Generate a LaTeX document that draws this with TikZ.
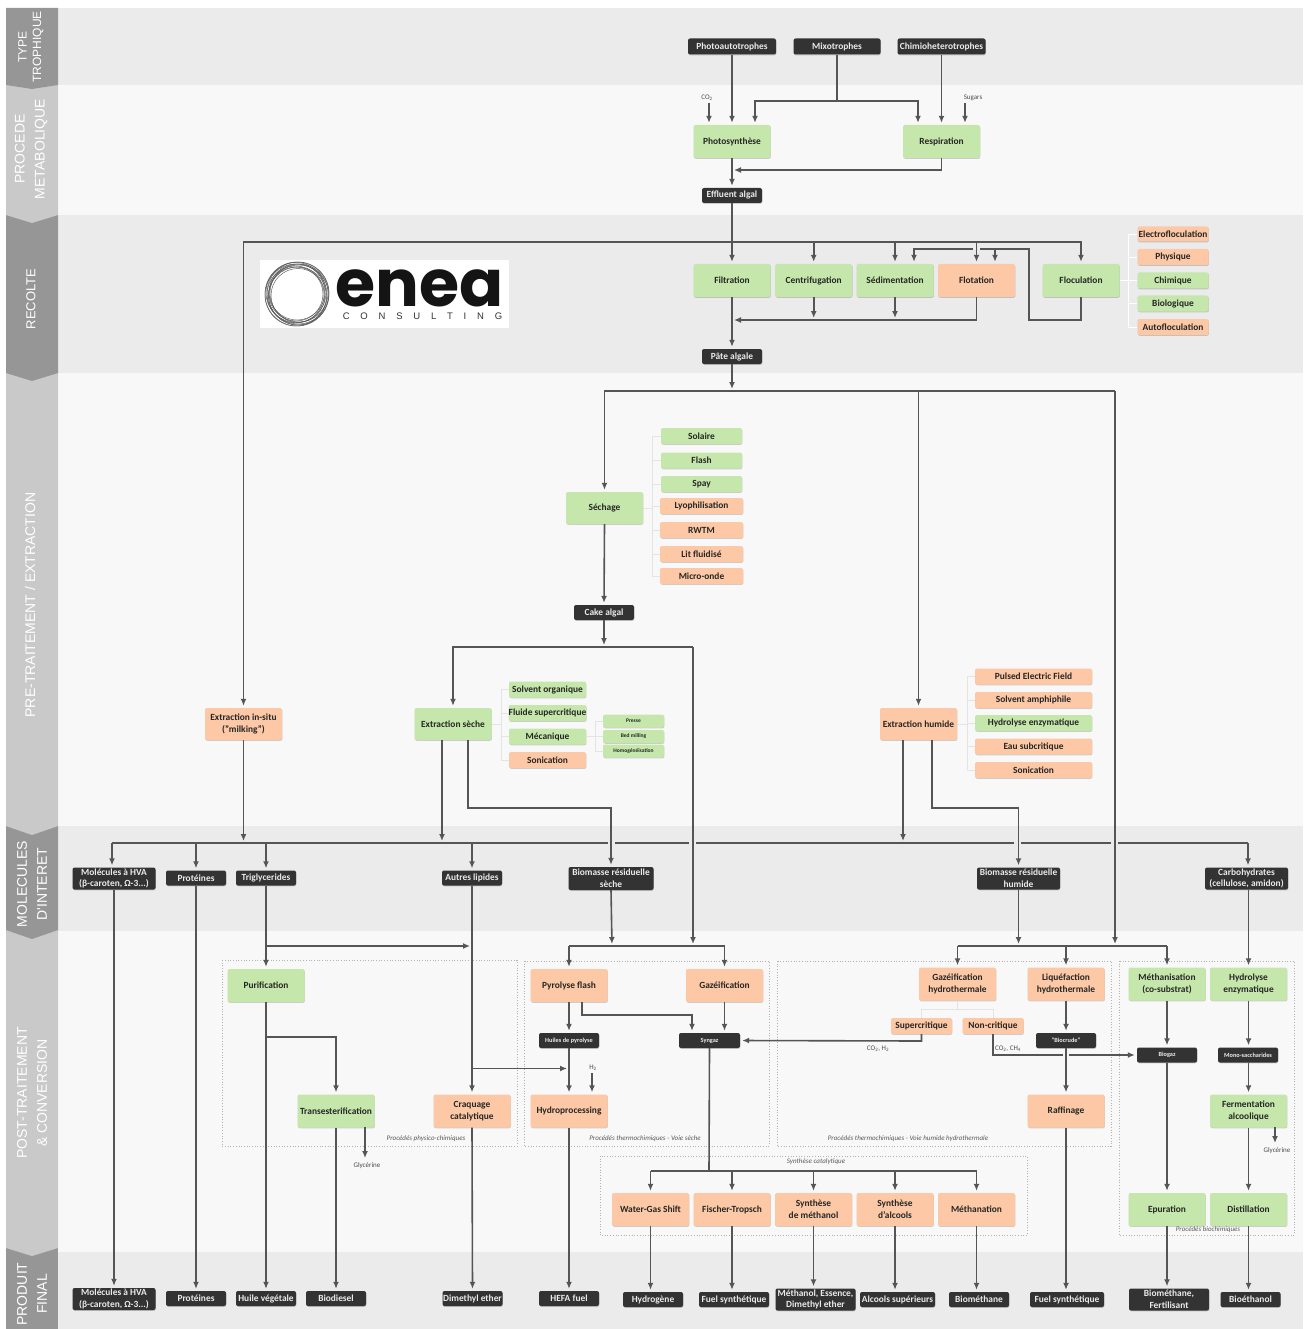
\documentclass[tikz,border=0pt]{standalone}
\usepackage{fontspec}
\setmainfont{Carlito}
\newfontfamily\tabf{Liberation Sans}
\newfontfamily\logof{Poppins}
\newfontfamily\logos{Liberation Sans}
\usetikzlibrary{arrows.meta,shadows}
\definecolor{bandA}{HTML}{EBEBEB}
\definecolor{bandB}{HTML}{F8F8F8}
\definecolor{tabD}{HTML}{969696}
\definecolor{tabL}{HTML}{C9C9C9}
\definecolor{cgreen}{HTML}{C5E7AC}
\definecolor{corange}{HTML}{FCC8A5}
\definecolor{cdark}{HTML}{333333}
\definecolor{cline}{HTML}{555555}
\definecolor{clight}{HTML}{E4E4E4}
\tikzset{
 x=1pt,y=-1pt,
 boxbase/.style={rounded corners=2pt,inner sep=0pt,align=center,
   drop shadow={shadow xshift=0.4pt,shadow yshift=-0.8pt,opacity=0.18,fill=black}},
 fn/.style={font=\fontsize{#1}{11.6}\selectfont\bfseries},
 boxgreen/.style={boxbase,fill=cgreen,text=black!85,fn=9.4},
 boxorange/.style={boxbase,fill=corange,text=black!85,fn=9.4},
 boxdark/.style={boxbase,fill=cdark,text=white!92!black,fn=9.4},
 ln/.style={draw=cline,line width=1.6pt},
 arr/.style={ln,-{Latex[length=7pt,width=6pt]},shorten >=2pt},
 lightln/.style={draw=clight,line width=0.8pt},
 whiteln/.style={draw=white,line width=0.8pt},
 groupbox/.style={draw=black!30,dotted,line width=0.7pt},
 grouplabel/.style={inner sep=0pt,text=black!65,font=\fontsize{7}{8}\selectfont\itshape},
 smalllabel/.style={inner sep=0pt,text=black!70,font=\fontsize{7}{8}\selectfont},
 tabtext/.style={rotate=90,align=center,text=white,inner sep=0pt,font=\fontsize{14}{20}\selectfont\tabf},
}
\newcommand{\bx}[7]{\node[#1,minimum width=#5pt,minimum height=#6pt] (#2) at (#3,#4) {#7};}
\newcommand{\tabshape}[4]{\fill[#1] (6,#2) -- (58,#2) -- (58,#3) -- (32,#4) -- (6,#3) -- cycle;}
\begin{document}
\begin{tikzpicture}
\useasboundingbox (0,0) rectangle (1303,1329);
\fill[white] (0,0) rectangle (1303,1329);
% bands
\fill[bandA] (6,8) rectangle (1303,85);
\fill[bandB] (6,85) rectangle (1303,215);
\fill[bandA] (6,215) rectangle (1303,373);
\fill[bandB] (6,373) rectangle (1303,826);
\fill[bandA] (6,826) rectangle (1303,931);
\fill[bandB] (6,931) rectangle (1303,1252);
\fill[bandA] (6,1252) rectangle (1303,1329);
% tabs
\fill[tabD] (6,1248) -- (58,1248) -- (58,1329) -- (6,1329) -- cycle;
\tabshape{tabL}{930}{1248}{1256}
\tabshape{tabD}{826}{930}{939}
\tabshape{tabL}{373}{826}{835}
\tabshape{tabD}{215}{373}{381}
\tabshape{tabL}{85}{215}{223}
\tabshape{tabD}{8}{85}{89}
\node[tabtext,font=\fontsize{12}{14.5}\selectfont\tabf] (t1) at (31,47) {TYPE\\TROPHIQUE};
\node[tabtext] (t2) at (31,149) {PROCEDE\\METABOLIQUE};
\node[tabtext,font=\fontsize{13}{15}\selectfont\tabf] (t3) at (31,299) {RECOLTE};
\node[tabtext] (t4) at (30,605) {PRE-TRAITEMENT / EXTRACTION};
\node[tabtext] (t5) at (32,884) {MOLECULES\\D'INTERET};
\node[tabtext] (t6) at (32,1093) {POST-TRAITEMENT\\\& CONVERSION};
\node[tabtext] (t7) at (32,1294) {PRODUIT\\FINAL};
% logo
\fill[white] (260,260) rectangle (509,328);
\foreach \dx/\dy/\r in {0/0/32,1/-1/31,-1/1/31,1.5/1/30,-1/-1.5/30,0.5/2/29,-1.5/0.5/28.5,2/-1/29,0/-2/28,1/1.5/27,-1/0/27}
  \draw[black!65,line width=0.45pt] (297+\dx,294+\dy) circle (\r);
\node[inner sep=0pt,font=\fontsize{65}{65}\selectfont\logof\bfseries,text=black!92] (logoa) at (419.5,288) {enea};
\node[inner sep=0pt,font=\fontsize{9.5}{10}\selectfont\logos,text=black!80] (logob) at (422.5,316) {\spaceskip=10.8pt\relax C O N S U L T I N G};
% groups
\draw[groupbox] (222,960) rectangle (517,1146);
\draw[groupbox] (524,961) rectangle (769,1146);
\draw[groupbox] (777,961) rectangle (1111,1146);
\draw[groupbox] (600,1156) rectangle (1027,1235);
\draw[groupbox] (1119,961) rectangle (1294,1235);
\node[grouplabel] (g1) at (426,1139) {Procédés physico-chimiques};
\node[grouplabel] (g2) at (645,1139) {Procédés thermochimiques - Voie sèche};
\node[grouplabel] (g3) at (908,1139) {Procédés thermochimiques - Voie humide hydrothermale};
\node[grouplabel] (g4) at (816,1162) {Synthèse catalytique};
\node[grouplabel] (g5) at (1208,1230) {Procédés biochimiques};
% top
\bx{boxdark}{pa}{732}{46.5}{88}{16}{Photoautotrophes}
\bx{boxdark}{mi}{837}{46.5}{87}{16}{Mixotrophes}
\bx{boxdark}{ch}{941.5}{46.5}{88}{16}{Chimioheterotrophes}
\bx{boxgreen}{ph}{732}{141.5}{77}{33}{Photosynthèse}
\bx{boxgreen}{re}{941.5}{141.5}{77}{33}{Respiration}
\bx{boxdark}{ef}{732}{195.5}{60}{15}{Effluent algal}
\node[smalllabel] (lco) at (707,98) {CO\textsubscript{2}};
\node[smalllabel] (lsu) at (973,98) {Sugars};
% recolte
\bx{boxgreen}{fi}{732}{280.5}{77}{33}{Filtration}
\bx{boxgreen}{ce}{813.7}{280.5}{77}{33}{Centrifugation}
\bx{boxgreen}{se}{895}{280.5}{77}{33}{Sédimentation}
\bx{boxorange}{fl}{976.5}{280.5}{77}{33}{Flotation}
\bx{boxgreen}{fc}{1081}{280.5}{77}{33}{Floculation}
\bx{boxorange}{fa}{1173}{234}{71}{15}{Electrofloculation}
\bx{boxorange}{fb}{1173}{257}{71}{16}{Physique}
\bx{boxgreen}{fd}{1173}{280.5}{71}{16}{Chimique}
\bx{boxgreen}{fe}{1173}{303.5}{71}{16}{Biologique}
\bx{boxorange}{ff}{1173}{327}{71}{16}{Autofloculation}
\bx{boxdark}{pt}{732}{356.5}{60}{15}{Pâte algale}
% sechage
\bx{boxgreen}{sc}{604.5}{508}{77}{32}{Séchage}
\bx{boxgreen}{sa}{701.5}{436}{81}{16}{Solaire}
\bx{boxgreen}{sb}{701.5}{460.5}{81}{16}{Flash}
\bx{boxgreen}{sd}{701.5}{484}{81}{16}{Spay}
\bx{boxorange}{sf}{701.5}{506}{83}{16}{Lyophilisation}
\bx{boxorange}{sg}{701.5}{530}{83}{16}{RWTM}
\bx{boxorange}{sh}{701.5}{554}{83}{16}{Lit fluidisé}
\bx{boxorange}{si}{701.5}{576}{83}{16}{Micro-onde}
\bx{boxdark}{ca}{604}{612.5}{60}{15}{Cake algal}
% extractions
\bx{boxorange}{xi}{243.5}{724}{77}{32}{Extraction in-situ\\("milking")}
\bx{boxgreen}{xs}{453}{724}{77}{32}{Extraction sèche}
\bx{boxgreen}{xa}{547.5}{689.5}{77}{16}{Solvent organique}
\bx{boxgreen}{xb}{547.5}{713}{77}{16}{Fluide supercritique}
\bx{boxgreen}{xc}{547.5}{736.5}{77}{16}{Mécanique}
\bx{boxorange}{xd}{547.5}{760}{77}{16}{Sonication}
\node[boxgreen,fn=5.5,minimum width=61pt,minimum height=13pt] (ya) at (633.5,721) {Presse};
\node[boxgreen,fn=5.5,minimum width=61pt,minimum height=13pt] (yb) at (633.5,736.5) {Bed milling};
\node[boxgreen,fn=5.5,minimum width=61pt,minimum height=13pt] (yc) at (633.5,751) {Homogénéisation};
\bx{boxorange}{xh}{918.5}{724}{77}{32}{Extraction humide}
\bx{boxorange}{ha}{1033.5}{676.5}{117}{16}{Pulsed Electric Field}
\bx{boxorange}{hb}{1033.5}{700}{117}{16}{Solvent amphiphile}
\bx{boxgreen}{hc}{1033.5}{723}{117}{16}{Hydrolyse enzymatique}
\bx{boxorange}{hd}{1033.5}{746.5}{117}{16}{Eau subcritique}
\bx{boxorange}{he}{1033.5}{770}{117}{16}{Sonication}
% molecules
\bx{boxdark}{ma}{114}{878.5}{83}{22}{Molécules à HVA\\(β-caroten, Ω-3...)}
\bx{boxdark}{mb}{196}{878}{60}{15}{Protéines}
\bx{boxdark}{mc}{266}{878}{60}{15}{Triglycerides}
\bx{boxdark}{md}{472}{878}{60}{15}{Autres lipides}
\bx{boxdark}{me}{611}{878.5}{85}{23}{Biomasse résiduelle\\sèche}
\bx{boxdark}{mf}{1018.5}{878.5}{83}{22}{Biomasse résiduelle\\humide}
\bx{boxdark}{mg}{1246.5}{878.5}{83}{22}{Carbohydrates\\(cellulose, amidon)}
% post
\bx{boxgreen}{pu}{266}{985.5}{77}{33}{Purification}
\bx{boxgreen}{tr}{336}{1111}{77}{33}{Transesterification}
\bx{boxorange}{cr}{472}{1111}{77}{33}{Craquage\\catalytique}
\bx{boxorange}{py}{569}{985.5}{77}{33}{Pyrolyse flash}
\bx{boxorange}{gz}{724.5}{985.5}{77}{33}{Gazéification}
\node[boxdark,fn=6.3,minimum width=60pt,minimum height=15pt] (hp) at (569,1040.5) {Huiles de pyrolyse};
\node[boxdark,fn=6.3,minimum width=61pt,minimum height=15pt] (sy) at (709.5,1040.5) {Syngaz};
\bx{boxorange}{hy}{569}{1111}{77}{33}{Hydroprocessing}
\bx{boxorange}{gh}{957.5}{984}{77}{33}{Gazéification\\hydrothermale}
\bx{boxorange}{lq}{1066}{984}{77}{33}{Liquéfaction\\hydrothermale}
\bx{boxgreen}{mz}{1167}{984}{77}{33}{Méthanisation\\(co-substrat)}
\bx{boxgreen}{hz}{1248.5}{984}{77}{33}{Hydrolyse\\enzymatique}
\bx{boxorange}{su}{921.5}{1026}{61}{16}{Supercritique}
\bx{boxorange}{nc}{993}{1026}{61}{16}{Non-critique}
\node[boxdark,fn=6.3,minimum width=60pt,minimum height=15pt] (bc) at (1066,1040.5) {"Biocrude"};
\node[boxdark,fn=6.3,minimum width=60pt,minimum height=15pt] (bg) at (1167,1055) {Biogaz};
\node[boxdark,fn=6.3,minimum width=60pt,minimum height=15pt] (mo) at (1248,1055) {Mono-saccharides};
\bx{boxorange}{ra}{1066}{1111}{77}{33}{Raffinage}
\bx{boxgreen}{fm}{1248.5}{1111}{77}{33}{Fermentation\\alcoolique}
\bx{boxorange}{wg}{650.5}{1209.5}{77}{33}{Water-Gas Shift}
\bx{boxorange}{ft}{732}{1209.5}{77}{33}{Fischer-Tropsch}
\bx{boxorange}{sm}{813.5}{1209.5}{77}{33}{Synthèse\\de méthanol}
\bx{boxorange}{sl}{895}{1209.5}{77}{33}{Synthèse\\d'alcools}
\bx{boxorange}{mt}{976.5}{1209.5}{77}{33}{Méthanation}
\bx{boxgreen}{ep}{1167}{1209.5}{77}{33}{Epuration}
\bx{boxgreen}{di}{1248.5}{1209.5}{77}{33}{Distillation}
% finals
\bx{boxdark}{za}{114}{1299}{83}{22}{Molécules à HVA\\(β-caroten, Ω-3...)}
\bx{boxdark}{zb}{196}{1298.5}{60}{15}{Protéines}
\bx{boxdark}{zc}{266}{1298.5}{60}{15}{Huile végétale}
\bx{boxdark}{zd}{336}{1298.5}{60}{15}{Biodiesel}
\bx{boxdark}{ze}{472.5}{1298.5}{60}{15}{Dimethyl ether}
\bx{boxdark}{zf}{569}{1298.5}{60}{15}{HEFA fuel}
\bx{boxdark}{zg}{653}{1299.5}{60}{15}{Hydrogène}
\bx{boxdark}{zh}{734}{1299.5}{70}{15}{Fuel synthétique}
\bx{boxdark}{zi}{815.5}{1299.5}{80}{22}{Méthanol, Essence,\\Dimethyl ether}
\bx{boxdark}{zj}{897.5}{1299.5}{75}{15}{Alcools supérieurs}
\bx{boxdark}{zk}{979}{1299.5}{60}{15}{Biométhane}
\bx{boxdark}{zl}{1067}{1299.5}{74}{15}{Fuel synthétique}
\bx{boxdark}{zm}{1169}{1299.5}{80}{22}{Biométhane,\\Fertilisant}
\bx{boxdark}{zn}{1250.5}{1299.5}{60}{15}{Bioéthanol}
% small labels
\node[smalllabel] (lgl) at (367,1166) {Glycérine};
\node[smalllabel] (lg2) at (1277,1150.5) {Glycérine};
\node[smalllabel] (lh2) at (593,1068) {H\textsubscript{2}};
\node[smalllabel] (lc1) at (878,1049) {CO\textsubscript{2}, H\textsubscript{2}};
\node[smalllabel] (lc2) at (1008,1049) {CO\textsubscript{2}, CH\textsubscript{4}};
% light connectors
\coordinate (w1) at (1128,280.5);
\draw[whiteln] (fc.east) -- (w1) (w1 |- fa) -- (w1 |- ff);
\foreach \n in {fa,fb,fd,fe,ff} \draw[whiteln] (w1 |- \n) -- (\n.west);
\coordinate (w2) at (652,508);
\draw[lightln] (sc.east) -- (w2) (w2 |- sa) -- (w2 |- si);
\foreach \n in {sa,sb,sd,sf,sg,sh,si} \draw[lightln] (w2 |- \n) -- (\n.west);
\coordinate (w3) at (501,724);
\draw[lightln] (xs.east) -- (w3) (w3 |- xa) -- (w3 |- xd);
\foreach \n in {xa,xb,xc,xd} \draw[lightln] (w3 |- \n) -- (\n.west);
\coordinate (w4) at (595,736.5);
\draw[lightln] (xc.east) -- (w4) (w4 |- ya) -- (w4 |- yc);
\foreach \n in {ya,yb,yc} \draw[lightln] (w4 |- \n) -- (\n.west);
\coordinate (w5) at (967,724);
\draw[lightln] (xh.east) -- (w5) (w5 |- ha) -- (w5 |- he);
\foreach \n in {ha,hb,hc,hd,he} \draw[lightln] (w5 |- \n) -- (\n.west);
\coordinate (w6) at (957.5,1009);
\draw[lightln] (gh.south) -- (w6) (w6 -| su) -- (w6 -| nc);
\draw[lightln] (w6 -| su) -- (su.north);
\draw[lightln] (w6 -| nc) -- (nc.north);
% connectors: top
\coordinate (a1) at (837,101);
\coordinate (a2) at (709,103);
\coordinate (a3) at (965,103);
\coordinate (a4) at (755,101);
\coordinate (a5) at (918,101);
\coordinate (a6) at (732,170);
\draw[arr] (pa.south) -- (ph.north);
\draw[arr] (ch.south) -- (re.north);
\draw[ln] (mi.south) -- (a1);
\draw[arr] (a1) -- (a4) -- (a4 |- ph.north);
\draw[arr] (a1) -- (a5) -- (a5 |- re.north);
\draw[arr] (a2) -- (a2 |- ph.north);
\draw[arr] (a3) -- (a3 |- re.north);
\draw[arr] (re.south) |- (a6);
\draw[arr] (ph.south) -- (ef.north);
% recolte
\coordinate (b0) at (732,242);
\draw[arr] (ef.south) -- (fi.north);
\draw[arr] (b0) -| (xi.north);
\draw[arr] (b0) -| (fc.north);
\draw[arr] (ce.north |- b0) -- (ce.north);
\draw[arr] (se.north |- b0) -- (se.north);
\draw[arr] (fl.north |- b0) -- (fl.north);
\coordinate (f1) at (1029,320);
\coordinate (f2) at (1029,249);
\coordinate (f3) at (980,249);
\coordinate (f4) at (973,249);
\coordinate (f5) at (995,249);
\coordinate (f6) at (914,249);
\draw[ln] (fc.south) |- (f1) -- (f2) -- (f3);
\draw[arr] (f4) -- (f6) -- (f6 |- se.north);
\draw[arr] (f5) -- (f5 |- fl.north);
\coordinate (c0) at (732,320);
\draw[arr] (fl.south) |- (c0);
\draw[arr] (ce.south) -- (ce.south |- c0);
\draw[arr] (se.south) -- (se.south |- c0);
\draw[arr] (fi.south) -- (pt.north);
% pretraitement
\coordinate (d0) at (732,391);
\coordinate (d1) at (1115,391);
\coordinate (d2) at (1115,946);
\draw[arr] (pt.south) -- (d0);
\draw[arr] (d0) -| (sc.north);
\draw[arr] (d0) -| (xh.north);
\draw[ln] (d0) -- (d1);
\draw[arr] (d1) -- (d2);
\draw[arr] (sc.south) -- (ca.north);
\coordinate (e0) at (604,647);
\coordinate (e1) at (693,647);
\coordinate (e2) at (693,946);
\draw[arr] (ca.south) -- (e0);
\draw[arr] (e0) -| (xs.north);
\draw[ln] (e0) -- (e1);
\draw[arr] (e1) -- (e2);
% molecule bus
\coordinate (m0) at (112,843);
\coordinate (m1) at (196,843);
\coordinate (m2) at (266,843);
\coordinate (m3) at (472,843);
\coordinate (m4) at (1248,843);
\coordinate (g1a) at (608,843);\coordinate (g1b) at (615,843);
\coordinate (g2a) at (689,843);\coordinate (g2b) at (696,843);
\coordinate (g3a) at (1014,843);\coordinate (g3b) at (1021,843);
\coordinate (g4a) at (1111,843);\coordinate (g4b) at (1118,843);
\draw[ln] (m0) -- (g1a) (g1b) -- (g2a) (g2b) -- (g3a) (g3b) -- (g4a) (g4b) -- (m4);
\draw[arr] (m0) -- (m0 |- ma.north);
\draw[arr] (m1) -- (mb.north);
\draw[arr] (m2) -- (mc.north);
\draw[arr] (m3) -- (md.north);
\draw[arr] (m4) -- (m4 |- mg.north);
\coordinate (i1) at (243.5,843);
\draw[arr] (xi.south) -- (i1);
\coordinate (i2) at (442,843);
\draw[arr] (i2 |- xs.south) -- (i2);
\coordinate (i3) at (468,808);
\draw[arr] (i3 |- xs.south) -- (i3) -| (me.north);
\coordinate (i4) at (903,843);
\draw[arr] (i4 |- xh.south) -- (i4);
\coordinate (i5) at (932,808);
\draw[arr] (i5 |- xh.south) -- (i5) -| (mf.north);
% triglycerides
\coordinate (j1) at (266,946);
\coordinate (j2) at (472,946);
\draw[arr] (mc.south) -- (pu.north);
\draw[arr] (j1) -- (j2);
\coordinate (j3) at (266,1037);
\draw[arr] (j3) -| (tr.north);
\draw[arr] (pu.south) -- (zc.north);
\draw[arr] (tr.south) -- (zd.north);
\coordinate (j4) at (365,1127);
\coordinate (j5) at (365,1160);
\draw[arr] (j4) -- (j5);
\draw[arr] (md.south) -- (cr.north);
\draw[arr] (cr.south) -- (ze.north);
\coordinate (j6) at (472,1068.5);
\coordinate (j7) at (569,1068.5);
\draw[arr] (j6) -- (j7);
\draw[arr] (ma.south) -- (za.north);
\draw[arr] (mb.south) -- (zb.north);
% voie seche
\coordinate (k0) at (612,946);
\coordinate (k1) at (569,946);
\coordinate (k2) at (724.5,946);
\draw[arr] (me.south) -- (k0);
\draw[ln] (k1) -- (k2);
\draw[arr] (k1) -- (py.north);
\draw[arr] (k2) -- (gz.north);
\draw[arr] (py.south) -- (hp.north);
\coordinate (k3) at (582,1002);
\coordinate (k4) at (692,1015);
\draw[arr] (k3) |- (k4) -- (k4 |- sy.north);
\draw[arr] (gz.south) -- (gz.south |- sy.north);
\draw[arr] (hp.south) -- (hy.north);
\coordinate (k5) at (592,1073);
\draw[arr] (k5) -- (k5 |- hy.north);
\draw[arr] (hy.south) -- (zf.north);
% catalytic
\coordinate (n0) at (709,1171);
\coordinate (n1) at (650.5,1171);
\coordinate (n2) at (976.5,1171);
\draw[ln] (sy.south) -- (n0);
\draw[ln] (n1) -- (n2);
\draw[arr] (n1) -- (wg.north);
\draw[arr] (ft.north |- n1) -- (ft.north);
\draw[arr] (sm.north |- n1) -- (sm.north);
\draw[arr] (sl.north |- n1) -- (sl.north);
\draw[arr] (n2) -- (mt.north);
\draw[arr] (wg.south) -- (wg.south |- zg.north);
\draw[arr] (ft.south) -- (ft.south |- zh.north);
\draw[arr] (sm.south) -- (sm.south |- zi.north);
\draw[arr] (sl.south) -- (sl.south |- zj.north);
\draw[arr] (mt.south) -- (mt.south |- zk.north);
% voie humide
\coordinate (q0) at (1018.5,946);
\coordinate (q1) at (957.5,946);
\coordinate (q2) at (1167,946);
\draw[arr] (mf.south) -- (q0);
\draw[ln] (q1) -- (q2);
\draw[arr] (q1) -- (gh.north);
\draw[arr] (q2) -- (mz.north);
\draw[arr] (lq.north |- q1) -- (lq.north);
\draw[arr] (lq.south) -- (bc.north);
\draw[arr] (bc.south) -- (ra.north);
\draw[arr] (ra.south) -- (ra.south |- zl.north);
\coordinate (q3) at (921.5,1041);
\draw[arr] (su.south) -- (q3) -- (sy.east);
\coordinate (q4) at (993,1055);
\coordinate (q5) at (1063,1055);
\coordinate (q6) at (1069,1055);
\draw[ln] (nc.south) -- (q4) -- (q5);
\draw[arr] (q6) -- (bg.west);
\draw[arr] (mz.south) -- (bg.north);
\draw[arr] (bg.south) -- (ep.north);
\draw[arr] (ep.south) -- (ep.south |- zm.north);
\draw[arr] (mg.south -| hz.north) -- (hz.north);
\draw[arr] (hz.south) -- (hz.south |- mo.north);
\draw[arr] (mo.south -| fm.north) -- (fm.north);
\draw[arr] (fm.south) -- (di.north);
\draw[arr] (di.south) -- (di.south |- zn.north);
\coordinate (q7) at (1275,1127);
\coordinate (q8) at (1275,1145);
\draw[arr] (q7) -- (q8);
\end{tikzpicture}
\end{document}
